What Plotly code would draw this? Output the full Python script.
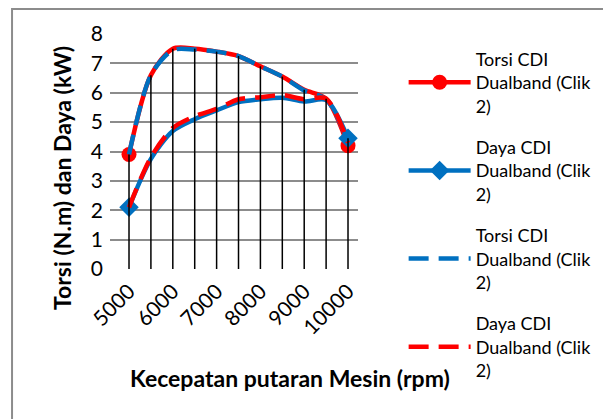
import plotly.graph_objects as go

rpm = [5000, 5500, 6000, 6500, 7000, 7500, 8000, 8500, 9000, 9500, 10000]
torsi = [3.9, 6.6, 7.5, 7.5, 7.4, 7.25, 6.9, 6.55, 6.1, 5.8, 4.2]
daya = [2.1, 3.75, 4.7, 5.1, 5.4, 5.68, 5.78, 5.83, 5.7, 5.75, 4.45]
torsi_dash = [3.9, 6.6, 7.45, 7.47, 7.4, 7.25, 6.9, 6.55, 6.08, 5.78, 4.35]
daya_dash = [2.1, 3.8, 4.8, 5.2, 5.45, 5.78, 5.85, 5.92, 5.78, 5.8, 4.3]
names = ["Torsi CDI<br>Dualband (Clik<br>2)", "Daya CDI<br>Dualband (Clik<br>2)",
         "Torsi CDI<br>Dualband (Clik<br>2)", "Daya CDI<br>Dualband (Clik<br>2)"]
xtick_vals = [5000, 6000, 7000, 8000, 9000, 10000]
yticks = [0, 1, 2, 3, 4, 5, 6, 7, 8]

RED = "#FF0000"
BLUE = "#0070C0"
FONT = "Lato"
SMOOTH = 0.8

def end_colors(c, n):
    return [c if i in (0, n - 1) else "rgba(0,0,0,0)" for i in range(n)]

n = len(rpm)
fig = go.Figure()
fig.add_trace(go.Scatter(x=rpm, y=torsi, name=names[0], legendgroup="a",
                         mode="lines+markers",
                         line=dict(color=RED, width=4.5, shape="spline", smoothing=SMOOTH),
                         marker=dict(symbol="circle", size=15, color=end_colors(RED, n))))
fig.add_trace(go.Scatter(x=rpm, y=daya, name=names[1], legendgroup="b",
                         mode="lines+markers",
                         line=dict(color=BLUE, width=4.5, shape="spline", smoothing=SMOOTH),
                         marker=dict(symbol="diamond", size=15, color=end_colors(BLUE, n))))
fig.add_trace(go.Scatter(x=rpm, y=torsi_dash, name=names[2], legendgroup="c", mode="lines",
                         line=dict(color=BLUE, width=4.5, shape="spline", smoothing=SMOOTH,
                                   dash="20px,10px")))
fig.add_trace(go.Scatter(x=rpm, y=daya_dash, name=names[3], legendgroup="d", mode="lines",
                         line=dict(color=RED, width=4.5, shape="spline", smoothing=SMOOTH,
                                   dash="20px,10px")))

# drop lines from the highest series value down to the axis
tops = [max(a, b, c, d) for a, b, c, d in zip(torsi, daya, torsi_dash, daya_dash)]
dx, dy = [], []
for xv, tv in zip(rpm, tops):
    dx += [xv, xv, None]
    dy += [0, tv, None]
fig.add_trace(go.Scatter(x=dx, y=dy, mode="lines", line=dict(color="black", width=1.5),
                         showlegend=False, hoverinfo="skip"))

fig.update_layout(
    width=611, height=419,
    margin=dict(l=102, r=261, t=26, b=158),
    paper_bgcolor="white", plot_bgcolor="white",
    font=dict(family=FONT, color="black"),
    showlegend=True,
    legend=dict(x=1.184, y=0.972, xanchor="left", yanchor="top",
                font=dict(family=FONT, size=18, color="black"),
                itemwidth=62, tracegroupgap=15, traceorder="grouped",
                maxheight=410, bgcolor="rgba(0,0,0,0)"),
    xaxis=dict(range=[4566, 10228], tickmode="array", tickvals=xtick_vals,
               ticktext=[str(v) for v in xtick_vals], tickangle=-45,
               tickfont=dict(family=FONT, size=21), showgrid=False, zeroline=False,
               showline=False, ticks="", ticklabelstandoff=5),
    yaxis=dict(range=[0, 8], tickmode="array", tickvals=yticks,
               tickfont=dict(family=FONT, size=21), showgrid=True, gridcolor="#8c8c8c",
               gridwidth=2, zeroline=False, showline=False, ticks="", ticklabelstandoff=6),
    annotations=[
        dict(text="<b>Kecepatan putaran Mesin (rpm)</b>", xref="paper", yref="paper",
             x=0.726, y=-0.464, xanchor="center", yanchor="middle", showarrow=False,
             font=dict(family=FONT, size=23, color="black")),
        dict(text="<b>Torsi (N.m) dan Daya (kW)</b>", xref="paper", yref="paper",
             x=-0.194, y=0.387, xanchor="center", yanchor="middle", showarrow=False,
             textangle=-90, font=dict(family=FONT, size=23, color="black")),
    ],
    shapes=[dict(type="rect", xref="paper", yref="paper", x0=-0.395, x1=3, y0=-3, y1=1.106,
                 line=dict(color="#8c8c8c", width=2), layer="below")],
)

fig.write_html("out.html")
